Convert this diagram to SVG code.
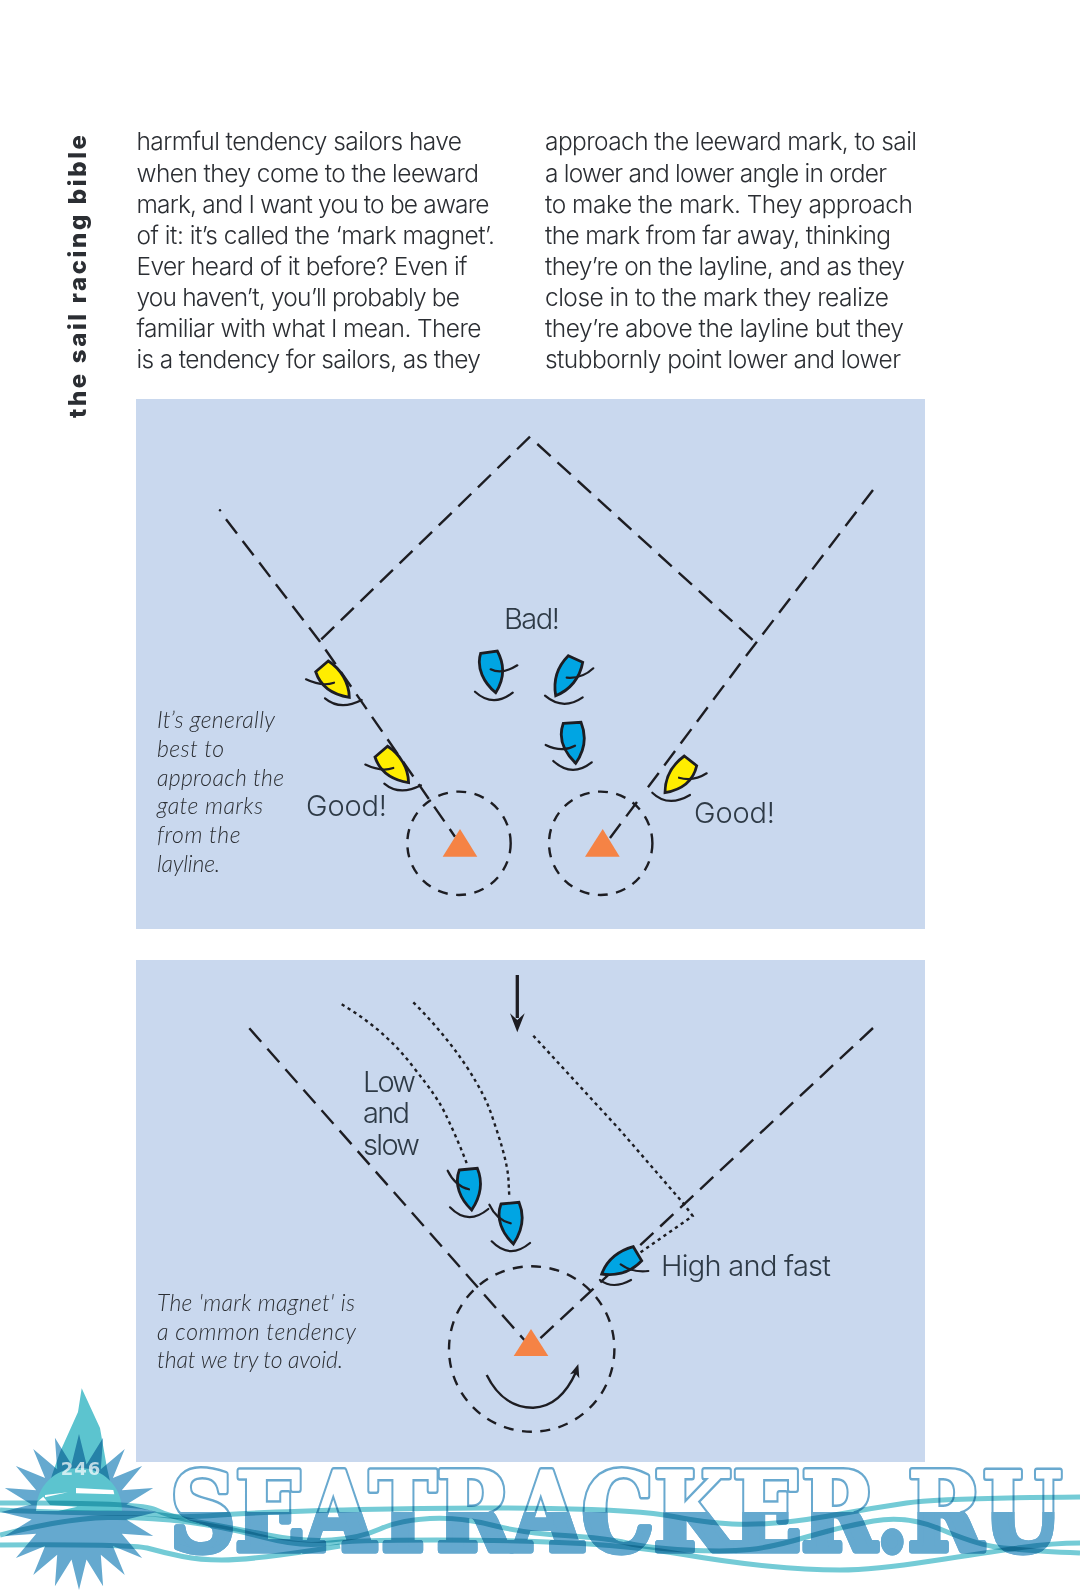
<svg xmlns="http://www.w3.org/2000/svg" width="1080" height="1591" viewBox="0 0 1080 1591">
<style>
.b{font-family:Inter,"Liberation Sans",sans-serif;font-weight:300;font-size:24.5px;fill:#2b2e33}
.l{font-family:Inter,"Liberation Sans",sans-serif;font-weight:300;font-size:29px;fill:#2e3a46}
.i{font-family:Lato,"Liberation Sans",sans-serif;font-weight:300;font-style:italic;font-size:23px;fill:#2b2e33}
.d{fill:none;stroke:#1d1d22;stroke-width:2.4;stroke-dasharray:18 9.3}
.c{fill:none;stroke:#1d1d22;stroke-width:2.4;stroke-dasharray:10 8.5}
.o{fill:none;stroke:#1d1d22;stroke-width:2.4;stroke-dasharray:3.3 3.7}
.hull{stroke:#1d1d22;stroke-width:2.8;stroke-linejoin:miter}
.y{fill:#ffed00}.u{fill:#00a5e3}
.s{fill:none;stroke:#1d1d22;stroke-width:2.2;stroke-linecap:round}
.m{fill:#f58345}
.w{font-family:"DejaVu Serif",serif;font-weight:700;font-size:100px;stroke-linejoin:round}
.wave{fill:none;stroke:#74cbd6;stroke-width:5;mix-blend-mode:multiply}
.star{fill:#65a9cf;mix-blend-mode:multiply}
</style>
<defs>
<clipPath id="low"><rect x="0" y="1512" width="1080" height="79"/></clipPath>
<g id="boat-left"><path class="hull" d="M315.7 671.7L328.3 661C341 669 349 683 349.3 697.3C335 695 321 688 315.7 671.7Z"/><path class="s" d="M306 679.3Q322 687 334 682.7M325 698.3Q340 711 361.7 700"/></g>
<g id="boat-down"><path class="hull" d="M459.3 1170L477.3 1168.3C483 1182 481 1196 471.7 1210C460 1199 454 1184 459.3 1170Z"/><path class="s" d="M447.7 1170.7Q455 1186 469 1189.3M450 1207.3Q468 1226 488.3 1209"/></g>
</defs>
<g id="body-text">
<text class="b" x="136.5" y="150" textLength="325.5">harmful tendency sailors have</text>
<text class="b" x="136.5" y="181.7" textLength="342.5">when they come to the leeward</text>
<text class="b" x="136.5" y="212.7" textLength="353">mark, and I want you to be aware</text>
<text class="b" x="136.5" y="243.5" textLength="358.5">of it: it’s called the ‘mark magnet’.</text>
<text class="b" x="136.5" y="274.5" textLength="331">Ever heard of it before? Even if</text>
<text class="b" x="136.5" y="305.5" textLength="323.5">you haven’t, you’ll probably be</text>
<text class="b" x="136.5" y="337" textLength="345">familiar with what I mean. There</text>
<text class="b" x="136.5" y="368" textLength="344.5">is a tendency for sailors, as they</text>
<text class="b" x="545" y="150" textLength="372">approach the leeward mark, to sail</text>
<text class="b" x="545" y="181.7" textLength="342">a lower and lower angle in order</text>
<text class="b" x="545" y="212.7" textLength="368">to make the mark. They approach</text>
<text class="b" x="545" y="243.5" textLength="346">the mark from far away, thinking</text>
<text class="b" x="545" y="274.5" textLength="360">they’re on the layline, and as they</text>
<text class="b" x="545" y="305.5" textLength="344">close in to the mark they realize</text>
<text class="b" x="545" y="337" textLength="359">they’re above the layline but they</text>
<text class="b" x="545" y="368" textLength="356">stubbornly point lower and lower</text>
<text transform="translate(86 418) rotate(-90)" font-family="Inter,'DejaVu Sans',sans-serif" font-weight="800" font-size="24" textLength="283" fill="#2b2e33">the sail racing bible</text>
</g>
<g id="panel-1"><rect x="136" y="399" width="789" height="530" fill="#c9d8ee"/></g>
<g id="panel-2"><rect x="136" y="960" width="789" height="502" fill="#c9d8ee"/></g>
<g id="connectors">
<circle cx="220" cy="510.3" r="1.2" fill="#1d1d22"/>
<path class="d" d="M226 519.3L320 641.7L455 836.7"/>
<path class="d" d="M530 436.7L320.7 640"/>
<path class="d" d="M537.3 444L756 643"/>
<path class="d" d="M873 490L743 660L643 794"/>
<path class="d" d="M637 802L610 838"/>
<circle class="c" cx="459" cy="843.3" r="51.7"/>
<circle class="c" cx="600.7" cy="843.3" r="51.7"/>
<path class="d" d="M249.3 1028.3L524.3 1340"/>
<path class="d" d="M873 1028L539.3 1339.3"/>
<circle class="c" cx="531.7" cy="1349" r="82.7" stroke-dasharray="10 9.5"/>
<path class="o" d="M341.7 1004.3C368 1020 393 1040 413 1066.7C430 1088 440 1102 446.7 1116.7C454 1132 461 1148 466.7 1163.3"/>
<path class="o" d="M413.3 1002.3C433 1022 450 1042 466.7 1066.7C480 1088 487 1100 493.3 1120C500 1140 506 1158 508.3 1176.7L509.3 1196.7"/>
<path class="o" d="M533.3 1035.7L620 1130L683.3 1203.3L692.7 1216L640 1252.7"/>
<path d="M517.3 975V1018" fill="none" stroke="#1d1d22" stroke-width="3.3"/>
<path d="M510 1013.3L517.3 1032.3L524.7 1013.3L517.3 1020Z" fill="#1d1d22"/>
<path d="M486.7 1375C498 1398 515 1408 533.3 1407.7C553 1407 567 1392 576 1372" fill="none" stroke="#1d1d22" stroke-width="2.4"/>
<path d="M578.3 1364L579.3 1378.3L575 1373L570 1374.3Z" fill="#1d1d22"/>
</g>
<g id="marks">
<path class="m" d="M460 829L477.3 856.7H442.7Z"/>
<path class="m" d="M602.7 829L619.7 856.7H585Z"/>
<path class="m" d="M531 1329L548.3 1356H513.7Z"/>
</g>
<g id="boat-y1" class="y"><use href="#boat-left"/></g>
<g id="boat-y2" class="y"><use href="#boat-left" x="59.3" y="85.3"/></g>
<g id="boat-y3" class="y"><path class="hull" d="M684.3 756L696.7 765.7C693 782 680 790 665 792.7C665 777 672 765 684.3 756Z"/><path class="s" d="M679 777.7Q693 782 706.7 773.3M652.3 792.7Q668 808 690 795"/></g>
<g id="boat-b1" class="u"><path class="hull" d="M480.7 653.3L497.3 651C505 665 505 678 495.7 692.7C484 683 476 668 480.7 653.3Z"/><path class="s" d="M490.7 669.3Q502 675 517.3 665.3M475 691.7Q493 708 512.7 692.7"/></g>
<g id="boat-b2" class="u"><path class="hull" d="M568.3 655.7L582.7 662.3C580 678 570 690 555.7 695.7C553 680 557 667 568.3 655.7Z"/><path class="s" d="M566.7 677.7Q582 679 593.3 668.3M545 695.7Q563 711 582.7 697.3"/></g>
<g id="boat-b3" class="u"><path class="hull" d="M563.3 723.3L581 722.3C587 737 585 750 575.7 763.3C564 752 558 738 563.3 723.3Z"/><path class="s" d="M545.7 745Q562 753 575 745.7M553.3 761Q572 778 591.7 762.3"/></g>
<g id="boat-b4" class="u"><use href="#boat-down"/></g>
<g id="boat-b5" class="u"><use href="#boat-down" x="41.7" y="34"/></g>
<g id="boat-b6" class="u"><path class="hull" d="M633.3 1246.7L641.7 1260.7C630 1273 616 1276 601.7 1274C607 1260 618 1251 633.3 1246.7Z"/><path class="s" d="M620.7 1264.3Q633 1273 648.3 1271M600 1280Q613 1290 631 1280"/></g>
<g id="labels">
<text class="l" x="504" y="629" textLength="56">Bad!</text>
<text class="l" x="306" y="816" textLength="81">Good!</text>
<text class="l" x="694" y="823" textLength="81">Good!</text>
<text class="l" x="363" y="1091.7" textLength="53">Low</text>
<text class="l" x="363" y="1122.7" textLength="47">and</text>
<text class="l" x="363" y="1155" textLength="57">slow</text>
<text class="l" x="661" y="1275.7" textLength="170">High and fast</text>
<text class="i" x="157" y="728" textLength="118">It’s generally</text>
<text class="i" x="157" y="757" textLength="67">best to</text>
<text class="i" x="157" y="786" textLength="127">approach the</text>
<text class="i" x="157" y="814" textLength="106">gate marks</text>
<text class="i" x="157" y="843" textLength="83.5">from the</text>
<text class="i" x="157" y="872" textLength="63">layline.</text>
<text class="i" x="157" y="1311" textLength="198">The 'mark magnet' is</text>
<text class="i" x="157" y="1340" textLength="199">a common tendency</text>
<text class="i" x="157" y="1368" textLength="186">that we try to avoid.</text>
</g>
<g id="watermark">
<path fill="#5cc4cf" d="M81.7 1388.3L100 1428L107 1468L112 1490H48L52 1475L60 1452L78 1412Z"/>
<path class="star" d="M79 1434L86.5 1464.6L103.1 1437.8L100.8 1469.2L124.8 1448.9L112.9 1478.1L142.1 1466.1L121.8 1490.2L153.2 1487.9L126.4 1504.5L157 1512L126.4 1519.5L153.2 1536.1L121.8 1533.8L142.1 1557.9L112.9 1545.9L124.8 1575.1L100.8 1554.8L103.1 1586.2L86.5 1559.4L79 1590L71.5 1559.4L54.9 1586.2L57.2 1554.8L33.2 1575.1L45.1 1545.9L15.9 1557.9L36.2 1533.8L4.8 1536.1L31.6 1519.5L1 1512L31.6 1504.5L4.8 1487.9L36.2 1490.2L15.9 1466.1L45.1 1478.1L33.2 1448.9L57.2 1469.2L54.9 1437.8L71.5 1464.6Z"/>
<path fill="#5cc4cf" d="M36 1511C36 1486 55 1468 79 1468S122 1486 122 1511Z"/>
<path fill="#fff" d="M76 1488L113.3 1490L114.3 1494.3L76 1493.3ZM45 1495L68 1492.3L45 1497.3ZM36 1511L37.3 1501.7L43.3 1496.7L50 1505L77.3 1506.7L58.3 1511Z"/>
<text class="w" transform="translate(170 1550) scale(.904 1.08)" fill="none" stroke="#69a9cf" stroke-width="6.5">SEATRACKER.RU</text>
<text class="w" transform="translate(170 1550) scale(.904 1.08)" fill="#fff" stroke="#fff" stroke-width="2">SEATRACKER.RU</text>
<g clip-path="url(#low)"><text class="w" transform="translate(170 1550) scale(.904 1.08)" fill="#65a9cf" stroke="#65a9cf" stroke-width="6.5">SEATRACKER.RU</text></g>
<path class="wave" d="M0 1503Q140 1502 155 1509.5Q170 1517 198.5 1522Q227 1527 265 1534.5Q303 1542 331.5 1540Q360 1538 380 1529Q400 1520 430 1518.5Q460 1517 491.5 1525Q523 1533 565 1535.5Q607 1538 627 1543Q647 1548 687 1550Q727 1552 750 1549.5Q773 1547 806.5 1537Q840 1527 873.5 1521Q907 1515 940 1529Q973 1543 993 1546.5Q1013 1550 1080 1553"/>
<path class="wave" d="M0 1510Q67 1513 108 1513Q150 1513 165 1515.5Q180 1518 220 1515Q260 1512 360 1509.5Q460 1507 550 1508.5Q640 1510 673.5 1516.5Q707 1523 732 1524Q757 1525 782 1522.5Q807 1520 840 1514Q873 1508 906.5 1503Q940 1498 1080 1497"/>
<path class="wave" d="M0 1535Q67 1518 108 1517.5Q150 1517 187.5 1522Q225 1527 262.5 1537Q300 1547 325 1543.5Q350 1540 436.5 1540Q523 1540 581.5 1543.5Q640 1547 683.5 1554.5Q727 1562 767 1566Q807 1570 840 1570Q873 1570 931.5 1561Q990 1552 1021.5 1547.5Q1053 1543 1080 1543"/>
<path class="wave" d="M0 1545Q133 1544 149 1548.5Q165 1553 182.5 1556.5Q200 1560 221.5 1560Q243 1560 280 1555Q317 1550 340 1546"/>
<text x="81" y="1475" text-anchor="middle" font-family="'DejaVu Sans',sans-serif" font-weight="700" font-size="18" letter-spacing="1" fill="#fff" fill-opacity=".7">246</text>
</g>
</svg>
